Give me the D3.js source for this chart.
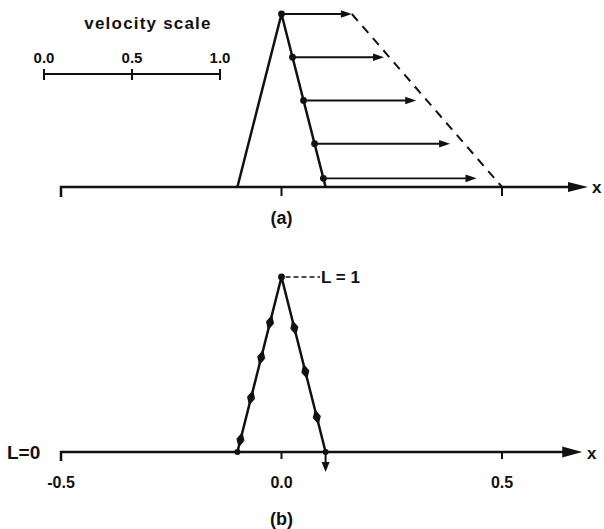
<!DOCTYPE html>
<html>
<head>
<meta charset="utf-8">
<title></title>
<script src="https://cdn.jsdelivr.net/npm/d3@7/dist/d3.min.js"></script>
<style>
  body { margin: 0; background: #fff; }
  text { font-family: "Liberation Sans", Arial, sans-serif; font-weight: bold; fill: #111; }
</style>
</head>
<body>
<script>
const width = 604
const height = 529

// x axis ticks (shared by both panels)
const xTicks = [-0.5, 0.0, 0.5]
const xTickLabels = ['-0.5', '0.0', '0.5']

// triangle profile (x, L)
const profileX = [-0.5, -0.1, 0.0, 0.1, 0.695]
const profileL = [0, 0, 1, 0, 0]

// panel (a): points on the right flank and their velocities
const arrowX = [0.0, 0.025, 0.05, 0.075, 0.095]
const arrowL = [1.0, 0.75, 0.5, 0.25, 0.05]
const arrowV = [0.40, 0.52, 0.64, 0.77, 0.87]

// velocity scale bar
const vTicks = [0.0, 0.5, 1.0]
const vTickLabels = ['0.0', '0.5', '1.0']

// panel (b): markers on the flanks (L values)
const leftMarkL = [0.74, 0.54, 0.31, 0.07]
const rightMarkL = [0.71, 0.46, 0.2]

const svg = d3.select('body').append('svg')
    .attr('width', width)
    .attr('height', height)

const x = d3.scaleLinear().domain([-0.5, 0.5]).range([61, 502])
const yA = d3.scaleLinear().domain([0, 1]).range([187, 14])
const yB = d3.scaleLinear().domain([0, 1]).range([452, 277])
const v = d3.scaleLinear().domain([0, 1]).range([44, 220])

// helper: filled arrowhead at (tx,ty) pointing along angle
function head(g, tx, ty, ang, len, hw) {
  const c = Math.cos(ang), s = Math.sin(ang)
  const bx = tx - c * len, by = ty - s * len
  g.append('path')
    .attr('d', `M${tx},${ty}L${bx - s * hw},${by + c * hw}L${bx + s * hw},${by - c * hw}Z`)
    .attr('fill', '#111')
}

const line = d3.line()

// ---------- panel (a) ----------
const ga = svg.append('g')

// velocity scale
ga.append('text').attr('x', 148).attr('y', 29).attr('text-anchor', 'middle')
  .attr('font-size', 17).attr('letter-spacing', 1.2).text('velocity  scale')
ga.append('line').attr('x1', v(0)).attr('x2', v(1)).attr('y1', 74).attr('y2', 74)
  .attr('stroke', '#111').attr('stroke-width', 2)
vTicks.forEach((d, i) => {
  ga.append('line').attr('x1', v(d)).attr('x2', v(d)).attr('y1', 69).attr('y2', 80)
    .attr('stroke', '#111').attr('stroke-width', 2)
  ga.append('text').attr('x', v(d)).attr('y', 63).attr('text-anchor', 'middle')
    .attr('font-size', 15).text(vTickLabels[i])
})

// axis
ga.append('path').attr('d', line([[x(-0.5), yA(0) + 10], [x(-0.5), yA(0)], [x(0.67), yA(0)]]))
  .attr('fill', 'none').attr('stroke', '#111').attr('stroke-width', 2.5)
head(ga, x(profileX[4]), yA(0), 0, 20, 5)
xTicks.forEach(d => {
  ga.append('line').attr('x1', x(d)).attr('x2', x(d)).attr('y1', yA(0)).attr('y2', yA(0) + 9)
    .attr('stroke', '#111').attr('stroke-width', 2)
})
ga.append('text').attr('x', 592).attr('y', 193).attr('font-size', 17).text('x')

// profile
ga.append('path').attr('d', line(profileX.slice(1, 4).map((d, i) => [x(d), yA(profileL[i + 1])])))
  .attr('fill', 'none').attr('stroke', '#111').attr('stroke-width', 2.5).attr('stroke-linejoin', 'round')

// dashed envelope: top arrow tip to (0.5, 0)
const tip0 = x(arrowX[0]) + v(arrowV[0]) - v(0)
ga.append('line').attr('x1', tip0).attr('y1', yA(arrowL[0])).attr('x2', x(0.5)).attr('y2', yA(0))
  .attr('stroke', '#111').attr('stroke-width', 2).attr('stroke-dasharray', '9,7')

// velocity arrows
arrowX.forEach((d, i) => {
  const x0 = x(d), y0 = yA(arrowL[i])
  const x1 = x0 + v(arrowV[i]) - v(0)
  ga.append('line').attr('x1', x0).attr('x2', x1 - 8).attr('y1', y0).attr('y2', y0)
    .attr('stroke', '#111').attr('stroke-width', 1.8)
  head(ga, x1, y0, 0, 11, 3.8)
  ga.append('circle').attr('cx', x0).attr('cy', y0).attr('r', 3.4).attr('fill', '#111')
})

ga.append('text').attr('x', x(0)).attr('y', 224).attr('text-anchor', 'middle')
  .attr('font-size', 18).text('(a)')

// ---------- panel (b) ----------
const gb = svg.append('g')

gb.append('path').attr('d', line([[x(-0.5), yB(0) + 9], [x(-0.5), yB(0)], [x(0.66), yB(0)]]))
  .attr('fill', 'none').attr('stroke', '#111').attr('stroke-width', 2.5)
head(gb, x(0.682), yB(0), 0, 20, 5.5)
xTicks.forEach((d, i) => {
  gb.append('line').attr('x1', x(d)).attr('x2', x(d)).attr('y1', yB(0)).attr('y2', yB(0) + 7)
    .attr('stroke', '#111').attr('stroke-width', 2)
  gb.append('text').attr('x', x(d)).attr('y', 488).attr('text-anchor', 'middle')
    .attr('font-size', 16).text(xTickLabels[i])
})
gb.append('text').attr('x', 587).attr('y', 459).attr('font-size', 17).text('x')
gb.append('text').attr('x', 7).attr('y', 459).attr('font-size', 19).text('L=0')

gb.append('path').attr('d', line(profileX.slice(1, 4).map((d, i) => [x(d), yB(profileL[i + 1])])))
  .attr('fill', 'none').attr('stroke', '#111').attr('stroke-width', 2.5).attr('stroke-linejoin', 'round')
gb.append('circle').attr('cx', x(0)).attr('cy', yB(1)).attr('r', 3.4).attr('fill', '#111')
gb.append('circle').attr('cx', x(-0.1)).attr('cy', yB(0)).attr('r', 3).attr('fill', '#111')
gb.append('circle').attr('cx', x(0.1)).attr('cy', yB(0)).attr('r', 3).attr('fill', '#111')

// L=1 label
gb.append('line').attr('x1', x(0) + 4).attr('x2', 320).attr('y1', yB(1)).attr('y2', yB(1))
  .attr('stroke', '#111').attr('stroke-width', 1.5).attr('stroke-dasharray', '5,3')
gb.append('text').attr('x', 321).attr('y', yB(1) + 6).attr('font-size', 17).text('L = 1')

// flank markers: small double arrows along the slope
function mark(px, py, ang) {
  head(gb, px + Math.cos(ang) * 8, py + Math.sin(ang) * 8, ang, 8, 4.2)
  head(gb, px - Math.cos(ang) * 8, py - Math.sin(ang) * 8, ang + Math.PI, 8, 4.2)
  gb.append('circle').attr('cx', px).attr('cy', py).attr('r', 2.8).attr('fill', '#111')
}
const angL = Math.atan2(yB(0) - yB(1), x(-0.1) - x(0))
leftMarkL.forEach(L => mark(x(-0.1 * (1 - L)), yB(L), angL))
const angR = Math.atan2(yB(0) - yB(1), x(0.1) - x(0))
rightMarkL.forEach(L => mark(x(0.1 * (1 - L)), yB(L), angR))

// downward arrow at right foot
gb.append('line').attr('x1', x(0.1)).attr('x2', x(0.1)).attr('y1', yB(0)).attr('y2', yB(0) + 12)
  .attr('stroke', '#111').attr('stroke-width', 2)
head(gb, x(0.1), yB(0) + 20, Math.PI / 2, 10, 4)

gb.append('text').attr('x', x(0)).attr('y', 525).attr('text-anchor', 'middle')
  .attr('font-size', 18).text('(b)')
</script>
</body>
</html>
